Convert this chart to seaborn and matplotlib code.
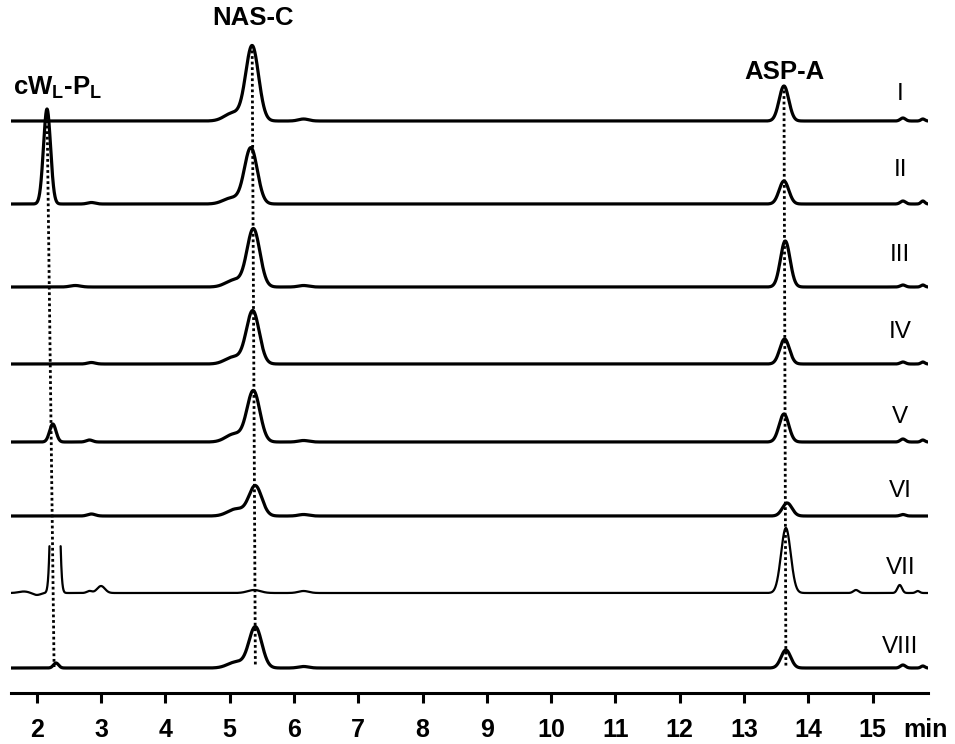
import numpy as np
import pandas as pd
import seaborn as sns
import matplotlib as mpl
from matplotlib import pyplot as plt

# one chromatogram per sample, stacked from top (I) to bottom (VIII)
trace_names = ["I", "II", "III", "IV", "V", "VI", "VII", "VIII"]
# baseline level of each trace (signal units above the time axis)
baselines = [572, 489, 406, 329, 251, 177, 100, 25]

# cW(L)-P(L): retention time (min) and peak height, 0 = not detected
cwlpl_rt = [2.16, 2.16, 2.25, 2.25, 2.25, 2.25, 2.285, 2.30]
cwlpl_height = [0, 95, 0, 0, 18, 0, 400, 5]
cwlpl_width = [0.05, 0.055, 0.05, 0.05, 0.05, 0.05, 0.042, 0.04]

# NAS-C main peak plus its front shoulder
nasc_rt = [5.35, 5.33, 5.37, 5.36, 5.37, 5.40, 5.38, 5.40]
nasc_height = [75, 56, 58, 53, 51, 30, 3, 41]
nasc_shoulder = [8, 6, 7, 7, 8, 7, 0, 6]

# ASP-A
aspa_rt = [13.62, 13.62, 13.64, 13.63, 13.62, 13.67, 13.65, 13.65]
aspa_height = [35, 23, 46, 25, 28, 13, 65, 18]

# small baseline features per trace: (rt, height, width)
minor_peaks = [
    [(6.15, 2, 0.08), (15.47, 3, 0.04), (15.78, 2, 0.03)],
    [(2.85, 1.5, 0.06), (15.47, 3, 0.04), (15.78, 3, 0.03)],
    [(2.6, 1.5, 0.08), (6.15, 1.5, 0.08), (15.47, 2, 0.04), (15.78, 2, 0.03)],
    [(2.85, 1.5, 0.06), (15.47, 2, 0.04), (15.78, 2, 0.03)],
    [(2.82, 2, 0.05), (6.15, 1.5, 0.08), (15.47, 3, 0.04), (15.78, 2, 0.03)],
    [(2.85, 2, 0.06), (6.15, 1.5, 0.08), (15.47, 1.5, 0.04)],
    [(1.8, 1.5, 0.08), (2.0, -2, 0.06), (2.82, 2, 0.04), (3.0, 7, 0.06),
     (6.15, 2, 0.08), (14.74, 3, 0.04), (15.42, 8, 0.035), (15.7, 2, 0.03)],
    [(6.15, 1.5, 0.08), (15.47, 3, 0.04), (15.78, 2, 0.03)],
]
clipped_trace = "VII"  # detector saturates on its cW(L)-P(L) peak
clip_window = (2.0, 2.6)
clip_height = 50

# dotted guide lines: rt at the top trace, rt at the bottom trace, top trace index
guide_rt_top = [2.16, 5.35, 13.62]
guide_rt_bottom = [2.27, 5.40, 13.65]
guide_top_trace = [1, 0, 0]
compound_labels = [r"cW$_\mathbf{L}$-P$_\mathbf{L}$", "NAS-C", "ASP-A"]


def gauss(t, rt, h, w):
    return h * np.exp(-0.5 * ((t - rt) / w) ** 2)


time = np.arange(1.6, 15.87, 0.002)
frames = []
for i, name in enumerate(trace_names):
    sig = gauss(time, cwlpl_rt[i], cwlpl_height[i], cwlpl_width[i])
    sig += gauss(time, nasc_rt[i], nasc_height[i], 0.10)
    sig += gauss(time, nasc_rt[i] - 0.3, nasc_shoulder[i], 0.13)
    sig += gauss(time, aspa_rt[i], aspa_height[i], 0.075)
    for rt, h, w in minor_peaks[i]:
        sig += gauss(time, rt, h, w)
    over = np.zeros_like(sig, dtype=bool)
    if name == clipped_trace:
        in_win = (time > clip_window[0]) & (time < clip_window[1])
        over = in_win & (sig > clip_height)
        sig[over] = np.nan
    seg = np.cumsum(np.r_[0, np.diff(over.astype(int)) != 0])
    df = pd.DataFrame({"time": time, "signal": sig + baselines[i], "segment": seg, "trace": name})
    frames.append(df.dropna())
data = pd.concat(frames, ignore_index=True)

sns.set_theme(style="white")
plt.rcParams["font.family"] = ["Liberation Sans", "DejaVu Sans"]
plt.rcParams["mathtext.fontset"] = "custom"
plt.rcParams["mathtext.bf"] = "Liberation Sans:bold"
plt.rcParams["mathtext.rm"] = "Liberation Sans"
plt.rcParams["text.color"] = "black"
plt.rcParams["xtick.color"] = "black"
plt.rcParams["xtick.labelcolor"] = "black"

fig = plt.figure(figsize=(9.55, 7.44), dpi=100)
ax = fig.add_axes([11 / 955, 51 / 744, 917 / 955, 693 / 744])

for name in trace_names:
    sub = data[data.trace == name]
    sns.lineplot(
        data=sub, x="time", y="signal", units="segment", estimator=None,
        color="black", linewidth=1.6 if name == clipped_trace else 2.3, ax=ax, zorder=3,
    )

# dotted retention-time guides
guide_tops = [
    baselines[guide_top_trace[0]] + cwlpl_height[guide_top_trace[0]],
    baselines[guide_top_trace[1]] + nasc_height[guide_top_trace[1]] + 1,
    baselines[guide_top_trace[2]] + aspa_height[guide_top_trace[2]] + 1,
]
for j in range(3):
    ax.plot([guide_rt_top[j], guide_rt_bottom[j]], [guide_tops[j], baselines[-1] + 1],
            color="black", linestyle=(0, (1, 1)), linewidth=2.0, zorder=2)

# compound names
ax.text(2.33, 605, compound_labels[0], ha="center", va="center",
        fontsize=18.5, fontweight="bold")
ax.text(5.36, 675, compound_labels[1], ha="center", va="center",
        fontsize=18.5, fontweight="bold")
ax.text(13.63, 621, compound_labels[2], ha="center", va="center",
        fontsize=18.5, fontweight="bold")

# sample numerals on the right
label_lift = [27, 34, 32, 32, 25, 25, 25, 21]
for i, name in enumerate(trace_names):
    ax.text(15.43, baselines[i] + label_lift[i], name, ha="center", va="center",
            fontsize=17.5)

tick_len, tick_pad = 7.2, 10.5
ax.set_xlim(1.6, 15.86)
ax.set_ylim(0, 693)
ax.set_xticks(range(2, 16))
ax.set_xticklabels([str(v) for v in range(2, 16)], fontweight="bold")
ax.set_yticks([])
ax.set_xlabel("")
ax.set_ylabel("")
ax.tick_params(axis="x", direction="out", length=tick_len, width=2.2, pad=tick_pad,
               labelsize=18, bottom=True)
# unit label sits on the tick-label row, right of "15"
min_tr = ax.get_xaxis_transform() + mpl.transforms.ScaledTranslation(
    0, -(tick_len + tick_pad) / 72, fig.dpi_scale_trans)
ax.text(15.47, 0, "min", transform=min_tr, ha="left", va="top",
        fontsize=18, fontweight="bold")
for side in ["top", "left", "right"]:
    ax.spines[side].set_visible(False)
ax.spines["bottom"].set_linewidth(2.2)
ax.spines["bottom"].set_color("black")

fig.savefig("out.png", dpi=100)
